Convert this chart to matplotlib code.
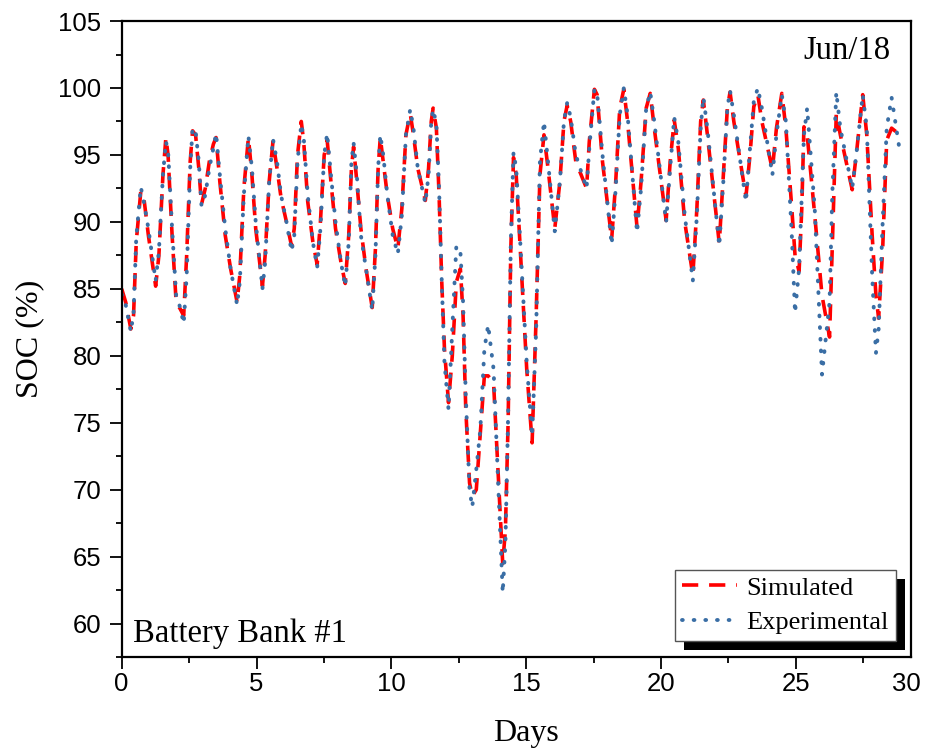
import numpy as np
import matplotlib
matplotlib.use('Agg')
import matplotlib.pyplot as plt
from matplotlib.ticker import MultipleLocator
from matplotlib.patches import Rectangle

# turning points (day, SOC %)
days = [0.00, 0.15, 0.34, 0.44, 0.54, 0.71, 0.84, 0.99, 1.26, 1.38, 1.53, 1.64, 1.72, 1.87,
        2.02, 2.17, 2.30, 2.41, 2.54, 2.63, 2.74, 2.86, 2.96, 3.10, 3.25, 3.40, 3.50, 3.64,
        3.84, 4.04, 4.28, 4.38, 4.53, 4.70, 4.83, 4.97, 5.22, 5.32, 5.47, 5.61, 5.76, 5.91,
        6.11, 6.30, 6.40, 6.52, 6.66, 6.75, 6.90, 7.09, 7.25, 7.37, 7.51, 7.62, 7.76, 7.93,
        8.13, 8.29, 8.42, 8.52, 8.60, 8.72, 8.87, 9.06, 9.29, 9.41, 9.51, 9.59, 9.70, 9.85,
        10.05, 10.24, 10.39, 10.54, 10.70, 10.82, 10.98, 11.26, 11.38, 11.48, 11.55, 11.67,
        11.77, 11.87, 11.97, 12.12, 12.26, 12.41, 12.56, 12.66, 12.76, 12.90, 13.00, 13.15,
        13.30, 13.45, 13.59, 13.79, 13.94, 14.13, 14.23, 14.33, 14.43, 14.53, 14.63, 14.78,
        15.02, 15.22, 15.37, 15.51, 15.66, 15.81, 16.06, 16.25, 16.40, 16.52, 16.65, 16.84,
        17.24, 17.34, 17.53, 17.63, 17.83, 18.17, 18.32, 18.47, 18.62, 18.76, 19.11, 19.26,
        19.45, 19.60, 19.75, 20.19, 20.34, 20.49, 20.64, 20.88, 21.18, 21.33, 21.47, 21.57,
        21.72, 22.16, 22.31, 22.46, 22.56, 22.70, 23.15, 23.30, 23.44, 23.59, 23.74, 24.13,
        24.28, 24.48, 24.63, 24.85, 24.97, 25.12, 25.22, 25.30, 25.42, 25.70, 25.97, 26.25,
        26.35, 26.50, 26.65, 27.09, 27.24, 27.48, 27.63, 27.83, 27.97, 28.07, 28.22, 28.37,
        28.55, 28.86]

simulated = [85.0, 84.0, 82.0, 83.0, 88.5, 92.3, 91.5, 89.0, 85.2, 87.5, 93.5, 96.3, 95.0, 89.0,
             84.0, 83.5, 83.0, 87.5, 94.5, 96.8, 96.5, 94.0, 91.3, 92.5, 94.5, 95.8, 96.3, 93.0,
             89.0, 86.5, 84.0, 86.0, 92.5, 96.3, 93.5, 89.5, 85.2, 87.5, 93.0, 96.0, 94.0, 91.8,
             90.0, 88.2, 89.5, 95.0, 97.5, 96.0, 91.5, 88.5, 86.8, 90.0, 95.0, 96.1, 93.0, 89.5,
             87.0, 85.4, 89.0, 94.0, 95.6, 93.0, 89.5, 86.5, 83.6, 88.0, 94.0, 96.3, 94.5, 92.0,
             89.5, 88.0, 91.0, 96.5, 98.1, 96.5, 94.0, 91.6, 94.0, 97.5, 98.5, 97.0,
             92.0, 85.5, 80.5, 76.5, 80.0, 85.5, 86.5, 83.0, 76.0, 70.5, 69.5, 70.0,
             74.3, 78.5, 78.5, 78.0, 72.0, 64.5, 67.0, 75.0, 88.0, 94.8, 93.5, 88.0,
             79.0, 73.5, 83.0, 93.5, 96.5, 94.0, 89.5, 93.0, 97.5, 98.7, 97.5, 94.5,
             92.5, 96.0, 99.9, 99.5, 94.5, 88.7, 93.0, 98.5, 99.9, 97.5, 89.6, 93.0,
             98.5, 99.6, 97.0, 90.1, 94.5, 97.6, 95.5, 90.0, 86.0, 91.0, 97.5, 99.1,
             96.5, 88.4, 93.5, 98.5, 99.7, 97.5, 91.9, 95.0, 98.6, 99.5, 97.5, 93.9,
             97.0, 99.6, 97.0, 91.0, 87.5, 86.3, 91.0, 97.1, 96.5, 90.5, 84.5, 81.4,
             88.0, 98.1, 96.5, 92.4, 95.0, 99.5, 96.5, 89.0, 84.5, 82.8, 88.0, 96.1,
             97.0, 96.5]

experimental = [84.6, 83.8, 81.8, 83.2, 88.8, 92.6, 91.3, 89.5, 85.6, 87.8, 93.5, 96.0, 95.3, 89.5,
                84.5, 83.6, 82.4, 86.0, 94.0, 97.0, 96.8, 94.5, 91.2, 92.0, 94.0, 95.5, 96.6, 93.5,
                89.5, 86.5, 83.8, 85.5, 92.0, 96.4, 94.0, 90.0, 85.0, 87.0, 93.0, 96.2, 94.5, 92.0,
                90.0, 87.8, 89.0, 94.5, 97.3, 96.3, 92.0, 88.5, 86.6, 89.5, 95.0, 96.6, 93.5, 90.0,
                87.0, 85.2, 88.5, 94.5, 95.9, 93.5, 89.0, 86.5, 83.4, 87.5, 94.0, 96.5, 95.0, 92.0,
                89.0, 87.6, 90.5, 96.5, 98.4, 97.0, 94.0, 91.4, 93.5, 97.5, 98.4, 97.3,
                92.5, 85.5, 79.5, 76.0, 82.0, 88.2, 87.8, 84.0, 77.0, 70.0, 68.7, 71.5,
                74.5, 80.5, 82.3, 79.0, 71.5, 62.3, 66.0, 75.5, 88.5, 95.2, 94.0, 88.5,
                79.5, 74.0, 82.0, 94.5, 97.5, 94.5, 89.3, 93.0, 97.5, 98.9, 97.8, 95.0,
                92.5, 95.5, 99.9, 99.6, 95.0, 88.3, 92.5, 98.0, 100.0, 98.0, 89.2, 92.5,
                98.5, 99.7, 97.5, 90.0, 94.0, 97.8, 96.0, 90.5, 85.6, 90.5, 97.0, 99.3,
                97.0, 88.2, 93.0, 98.5, 99.8, 98.0, 91.5, 95.5, 99.0, 100.0, 98.5, 93.5,
                96.5, 99.5, 97.5, 89.0, 83.2, 86.5, 92.0, 96.5, 98.5, 91.0, 78.6, 84.0,
                92.0, 99.7, 97.0, 92.5, 95.0, 99.5, 97.0, 86.0, 80.2, 82.0, 90.0, 97.0,
                99.3, 95.2]

xticks = [0, 5, 10, 15, 20, 25, 29.08]
xtick_labels = ['0', '5', '10', '15', '20', '25', '30']
yticks = [60, 65, 70, 75, 80, 85, 90, 95, 100, 105]

sans = 'Liberation Sans'
serif = 'Liberation Serif'

fig = plt.figure(figsize=(9.26, 7.54), dpi=100)
ax = fig.add_axes([0.1314, 0.1286, 0.8524, 0.8435])

ax.plot(days, simulated, color='#FF0000', lw=2.6, dashes=(4.5, 3), label='Simulated')
ax.plot(days, experimental, color='#3A6EA5', lw=2.8, linestyle=(0, (0.2, 2.8)),
        dash_capstyle='round', label='Experimental')

ax.set_xlim(0, 29.27)
ax.set_ylim(57.5, 105)
ax.set_xticks(xticks)
ax.set_xticklabels(xtick_labels, fontfamily=sans, fontsize=18.5)
ax.set_yticks(yticks)
ax.set_yticklabels([str(v) for v in yticks], fontfamily=sans, fontsize=18.5)
ax.xaxis.set_minor_locator(MultipleLocator(2.5))
ax.yaxis.set_minor_locator(MultipleLocator(2.5))
ax.tick_params(which='major', direction='out', length=8.5, width=1.3, colors='black')
ax.tick_params(which='minor', direction='out', length=4.3, width=1.3)
ax.tick_params(axis='x', pad=2)
ax.tick_params(axis='y', pad=6)
ax.xaxis.get_major_ticks()[-1].tick1line.set_visible(False)

for s in ax.spines.values():
    s.set_linewidth(1.6)
    s.set_color('black')

ax.set_ylabel('SOC (%)', fontfamily=serif, fontsize=23, va='center')
ax.yaxis.set_label_coords(-0.116, 0.5)
ax.set_xlabel('Days', fontfamily=serif, fontsize=23, va='center')
ax.xaxis.set_label_coords(0.512, -0.1195)

ax.text(0.9734, 0.978, 'Jun/18', transform=ax.transAxes, ha='right', va='top',
        fontfamily=serif, fontsize=23.5)
ax.text(0.0143, 0.024, 'Battery Bank #1', transform=ax.transAxes, ha='left', va='baseline',
        fontfamily=serif, fontsize=23.5)

leg = ax.legend(loc='lower right', bbox_to_anchor=(0.9806, 0.0256), borderaxespad=0,
                prop={'family': serif, 'size': 19}, fancybox=False, framealpha=1,
                edgecolor='#555555', handlelength=2.1, handletextpad=0.35,
                labelspacing=0.42, borderpad=0.25)
leg.get_frame().set_linewidth(1.0)

# solid black drop shadow behind the legend box
fig.canvas.draw()
bb = leg.get_window_extent()
ax.add_patch(Rectangle((bb.x0 + 9, bb.y0 - 9), bb.width, bb.height, transform=None,
                       facecolor='black', edgecolor='none', zorder=4.9, clip_on=False))

fig.savefig('out.png', dpi=100)
